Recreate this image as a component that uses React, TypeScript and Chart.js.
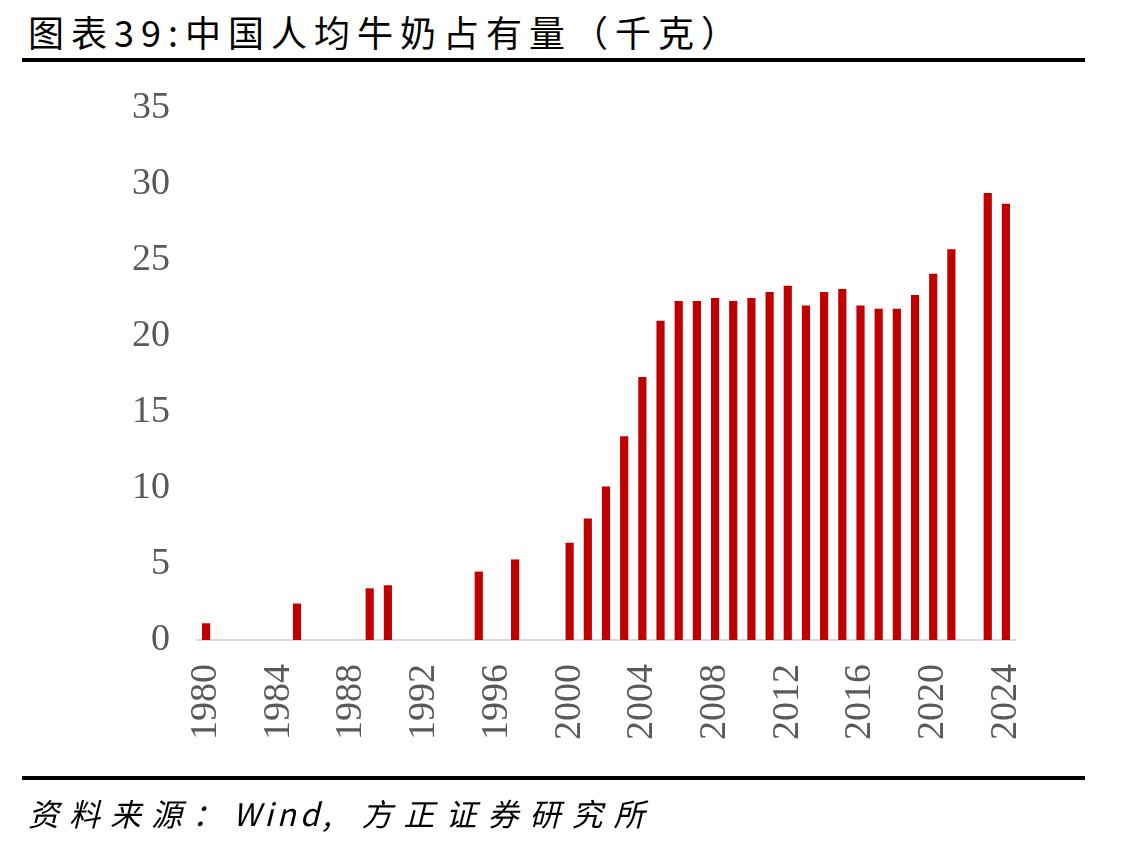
import React, { useEffect, useRef } from "react";
import { Chart, registerables } from "chart.js";

Chart.register(...registerables);

// Per-capita milk availability in China, kilograms per person
const years: string[] = [
  "1980", "1981", "1982", "1983", "1984", "1985", "1986", "1987", "1988", "1989",
  "1990", "1991", "1992", "1993", "1994", "1995", "1996", "1997", "1998", "1999",
  "2000", "2001", "2002", "2003", "2004", "2005", "2006", "2007", "2008", "2009",
  "2010", "2011", "2012", "2013", "2014", "2015", "2016", "2017", "2018", "2019",
  "2020", "2021", "2022", "2023", "2024",
];

const milkPerCapita: (number | null)[] = [
  1.1, null, null, null, null, 2.4, null, null, null, 3.4,
  3.6, null, null, null, null, 4.5, null, 5.3, null, null,
  6.4, 8.0, 10.1, 13.4, 17.3, 21.0, 22.3, 22.3, 22.5, 22.3,
  22.5, 22.9, 23.3, 22.0, 22.9, 23.1, 22.0, 21.8, 21.8, 22.7,
  24.1, 25.7, null, 29.4, 28.7,
];

// Every fourth year gets a label on the category axis
const shownYearLabels: string[] = [
  "1980", "1984", "1988", "1992", "1996", "2000",
  "2004", "2008", "2012", "2016", "2020", "2024",
];

const yTicks: number[] = [0, 5, 10, 15, 20, 25, 30, 35];

const titleText = "图表39:中国人均牛奶占有量（千克）";
const sourcePrefix = "资料来源：";
const sourceVendor = "Wind,";
const sourceOrg = "方正证券研究所";

const cjkFont = "'Noto Sans CJK SC', sans-serif";
const serifFont = "'Liberation Serif', 'Times New Roman', serif";

export default function App() {
  const canvasRef = useRef<HTMLCanvasElement | null>(null);

  useEffect(() => {
    const canvas = canvasRef.current;
    if (!canvas) return;
    const chart = new Chart(canvas, {
      type: "bar",
      data: {
        labels: years,
        datasets: [
          {
            data: milkPerCapita,
            backgroundColor: "#c00000",
            borderWidth: 0,
            categoryPercentage: 1,
            barPercentage: 0.45,
          },
        ],
      },
      options: {
        animation: false,
        responsive: false,
        maintainAspectRatio: false,
        layout: { padding: { top: 108, right: 118, bottom: 70, left: 0 } },
        plugins: {
          legend: { display: false },
          tooltip: { enabled: false },
          title: { display: false },
        },
        scales: {
          x: {
            type: "category",
            grid: { display: false, drawTicks: false },
            border: { display: true, color: "#d9d9d9", width: 2 },
            ticks: {
              autoSkip: false,
              minRotation: 90,
              maxRotation: 90,
              padding: 24,
              color: "#595959",
              font: { family: serifFont, size: 38 },
              callback: (_v: any, i: number) =>
                shownYearLabels.includes(years[i]) ? years[i] : "",
            },
            afterFit: (scale: any) => {
              scale.height = 140;
            },
          },
          y: {
            min: 0,
            max: 35,
            grid: { display: false, drawTicks: false },
            border: { display: false },
            afterBuildTicks: (scale: any) => {
              scale.ticks = yTicks.map((v) => ({ value: v }));
            },
            ticks: {
              padding: 27,
              color: "#595959",
              font: { family: serifFont, size: 38 },
            },
            afterFit: (scale: any) => {
              scale.width = 197;
            },
          },
        },
      },
    });
    return () => chart.destroy();
  }, []);

  return (
    <div style={{ position: "absolute", left: 0, top: 0, width: 1133, height: 850, background: "#fff" }}>
      <div
        style={{
          position: "absolute",
          left: 28,
          top: 11,
          fontFamily: cjkFont,
          fontSize: 36,
          lineHeight: "40px",
          letterSpacing: 7,
          color: "#000",
          whiteSpace: "nowrap",
        }}
      >
        {titleText}
      </div>
      <div style={{ position: "absolute", left: 22, top: 58, width: 1063, height: 4, background: "#000" }} />
      <canvas ref={canvasRef} width={1133} height={850} style={{ position: "absolute", left: 0, top: 0 }} />
      <div style={{ position: "absolute", left: 22, top: 776, width: 1063, height: 4, background: "#000" }} />
      <div
        style={{
          position: "absolute",
          left: 28,
          top: 795,
          fontFamily: cjkFont,
          fontSize: 31,
          lineHeight: "36px",
          fontStyle: "italic",
          color: "#000",
          whiteSpace: "nowrap",
        }}
      >
        <span style={{ letterSpacing: 10 }}>{sourcePrefix}</span>
        <span style={{ letterSpacing: 4, marginRight: 26 }}>{sourceVendor}</span>
        <span style={{ letterSpacing: 11 }}>{sourceOrg}</span>
      </div>
    </div>
  );
}
